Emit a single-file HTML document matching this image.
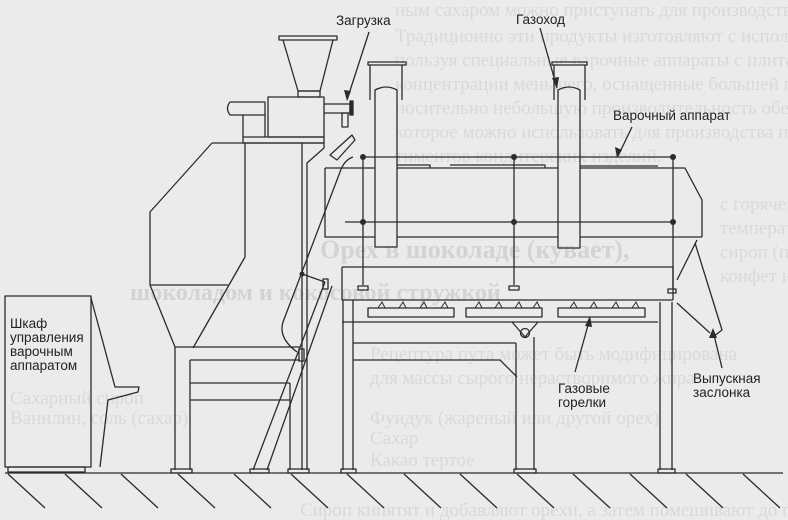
<!DOCTYPE html>
<html><head><meta charset="utf-8"><style>
html,body{margin:0;padding:0;background:#ebebeb;}
svg{display:block;}
.bt{font-family:"Liberation Serif",serif;fill:#d9d9d9;font-size:19px;}
.lb{font-family:"Liberation Sans",sans-serif;fill:#222;font-size:13.5px;}
</style></head><body>
<svg width="788" height="520" viewBox="0 0 788 520" xmlns="http://www.w3.org/2000/svg">
<rect width="788" height="520" fill="#ebebeb"/>
<g class="bt">
<text x="395" y="16">ным сахаром можно приступать для производства пралине.</text>
<text x="395" y="42">Традиционно эти продукты изготовляют с использованием технологии, ис-</text>
<text x="395" y="66">пользуя специальные варочные аппараты с плитами и снабжение</text>
<text x="395" y="90">концентрации меньшего, оснащенные большей поверхности котла (дежи). От-</text>
<text x="395" y="114">носительно небольшую производительность обеспечивают для изготовления,</text>
<text x="395" y="138">которое можно использовать для производства пралине и других ассор-</text>
<text x="395" y="162">тиментов кондитерских изделий.</text>
<text x="720" y="210">с горячей водой</text>
<text x="720" y="234">температуре</text>
<text x="720" y="258">сироп (пута)</text>
<text x="720" y="282">конфет и</text>
<text x="320" y="258" style="font-size:26px;font-weight:bold;fill:#d3d3d3">Орех в шоколаде (кувает),</text>
<text x="130" y="300" style="font-size:24px;font-weight:bold;fill:#d3d3d3">шоколадом и кокосовой стружкой</text>
<text x="370" y="360">Рецептура пута может быть модифицирована</text>
<text x="370" y="384">для массы сырого нерастворимого жира</text>
<text x="370" y="424">Фундук (жареный или другой орех)</text>
<text x="370" y="444">Сахар</text>
<text x="370" y="466">Какао тертое</text>
<text x="10" y="404">Сахарный сироп</text>
<text x="10" y="424">Ванилин, соль (сахар)</text>
<text x="300" y="516">Сироп кипятят и добавляют орехи, а затем помешивают до густоты</text>
</g>

<g fill="none" stroke="#2b2b2b" stroke-width="1.3" stroke-linejoin="round">
<!-- hopper -->
<rect x="279" y="36" width="58" height="4"/>
<path d="M283 40 L298 91 L320 91 L333 40"/>
<rect x="298" y="91" width="22" height="6"/>
<rect x="268" y="97" width="56" height="40"/>
<path d="M265 102 L230 102 Q225 108 230 115 L265 115 Z"/>
<path d="M243 115 L243 137 M265 115 L265 137"/>
<rect x="243" y="137" width="81" height="6"/>
<path d="M324 104 L350 104 L350 113 L324 113"/>
<rect x="350" y="101" width="3" height="14" fill="#2b2b2b"/>
<rect x="342" y="113" width="6" height="14"/>
<!-- big housing -->
<path d="M212 143 L324 143"/>
<path d="M212 143 L150 212 L150 285 L175 347"/>
<path d="M245 143 L245 257 L193 348"/>
<path d="M150 285 L228 285"/>
<path d="M302 143 L302 470"/>
<path d="M324 143 L324 148 L307 163 L307 470"/>
<path d="M175 347 L300 347"/>
<path d="M175 347 L175 470 M190 360 L190 470"/>
<path d="M190 360 L300 360 M190 383 L290 383 M190 400 L290 400"/>
<path d="M290 383 L290 470"/>
<!-- chute -->
<path d="M330 155 L352 135 L355 140 L337 160 Z"/>
<!-- chimneys -->
<rect x="368" y="62" width="38" height="3"/>
<path d="M370 65 L370 100 M402 65 L402 100"/>
<path d="M375 247 L375 90 Q386 84 397 90 L397 247 Z"/>
<rect x="552" y="62" width="35" height="3"/>
<path d="M554 65 L554 100 M585 65 L585 100"/>
<path d="M558 248 L558 90 Q569 84 580 90 L580 248 Z"/>
<!-- body -->
<path d="M325 168 L375 168 M397 168 L558 168 M580 168 L685 168 L702 200 L702 237"/>
<path d="M325 168 L325 237 L375 237 M397 237 L558 237 M580 237 L702 237"/>
<path d="M397 165 L430 165 L430 168 M450 165 L545 165 L545 168 M580 166 L658 166"/>
<!-- rails -->
<path d="M363 157 L673 157 L673 289"/>
<path d="M345 222 L673 222"/>
<path d="M363 157 L363 285 M514 157 L514 285"/>
<rect x="358" y="286" width="10" height="4"/>
<rect x="509" y="286" width="10" height="4"/>
<rect x="668" y="289" width="8" height="4"/>
<!-- hose -->
<path d="M353 157 Q344 160 340 172 L283 322 Q278 338 297 352"/>
<path d="M302 274 L325 282"/>
<rect x="323" y="279" width="5" height="10"/>
<rect x="299" y="349" width="5" height="12"/>
<!-- ladder -->
<path d="M325 282 L253 470 M332 286 L267 470"/>
<!-- lower frame -->
<path d="M342 267 L673 267 L673 300"/>
<path d="M342 267 L342 300 L673 300"/>
<path d="M342 322 L658 322"/>
<rect x="368" y="308" width="86" height="9"/>
<rect x="466" y="308" width="76" height="9"/>
<rect x="558" y="308" width="87" height="9"/>
<path d="M343 300 L343 470 M353 300 L353 470"/>
<path d="M660 302 L660 470 M672 302 L672 470"/>
<path d="M512 322 L525 337 L538 322"/>
<circle cx="525" cy="333" r="4.5"/>
<path d="M516 343 L516 470 M534 337 L534 470"/>
<path d="M353 343 L516 343"/>
<path d="M353 360 L500 360 L517 377"/>
<!-- discharge -->
<path d="M697 240 L677 280"/>
<path d="M695 243 L722 330 L713 337"/>
<path d="M677 303 L710 333"/>
<!-- cabinet -->
<path d="M5 296 L91 296 L91 467 L5 467 Z"/>
<path d="M91 298 L115 387 L139 387 L138 392 L108 400 L100 467"/>
<rect x="8" y="467" width="77" height="5"/>
<!-- feet -->
<rect x="171" y="469" width="21" height="4"/>
<rect x="250" y="469" width="19" height="4"/>
<rect x="288" y="469" width="21" height="4"/>
<rect x="341" y="469" width="15" height="4"/>
<rect x="514" y="469" width="22" height="4"/>
<rect x="658" y="469" width="17" height="4"/>
<!-- ground -->
<path d="M5 473 L783 473"/>
<path d="M8 474 L45 508 M65 474 L102 508 M121 474 L158 508 M178 474 L215 508 M234 474 L271 508 M291 474 L328 508 M347 474 L384 508 M404 474 L441 508 M460 474 L497 508 M517 474 L554 508 M573 474 L610 508 M630 474 L667 508 M686 474 L723 508 M743 474 L780 508"/>
<!-- leaders -->
<path d="M369 32 L347 100"/>
<path d="M540 28 L557 88"/>
<path d="M632 127 L618 156"/>
<path d="M575 372 L590 318"/>
<path d="M722 368 L714 335"/>
</g>
<g fill="#2b2b2b">
<polygon points="347,101 344,90 351,91"/>
<polygon points="557,89 552,78 559,77"/>
<polygon points="617,158 615,147 622,150"/>
<polygon points="590,316 585,326 592,327"/>
<polygon points="713,328 709,338 717,338"/>
<circle cx="363" cy="157" r="3"/><circle cx="514" cy="157" r="3"/><circle cx="673" cy="157" r="3"/>
<circle cx="363" cy="222" r="3"/><circle cx="514" cy="222" r="3"/><circle cx="673" cy="222" r="3"/>
<circle cx="302" cy="274" r="2.5"/>
</g>
<g fill="none" stroke="#2b2b2b" stroke-width="1">
<path d="M378 308 l4 -6 l3 6 M399 308 l4 -6 l3 6 M420 308 l4 -6 l3 6 M441 308 l4 -6 l3 6"/>
<path d="M475 308 l4 -6 l3 6 M495 308 l4 -6 l3 6 M515 308 l4 -6 l3 6 M533 308 l4 -6 l3 6"/>
<path d="M570 308 l4 -6 l3 6 M590 308 l4 -6 l3 6 M612 308 l4 -6 l3 6 M632 308 l4 -6 l3 6"/>
</g>
<g class="lb">
<text x="336" y="25">Загрузка</text>
<text x="516" y="24">Газоход</text>
<text x="613" y="120">Варочный аппарат</text>
<text x="10" y="328">Шкаф</text>
<text x="10" y="342">управления</text>
<text x="10" y="356">варочным</text>
<text x="10" y="370">аппаратом</text>
<text x="558" y="393">Газовые</text>
<text x="558" y="407">горелки</text>
<text x="693" y="383">Выпускная</text>
<text x="693" y="397">заслонка</text>
</g>
</svg>
</body></html>
